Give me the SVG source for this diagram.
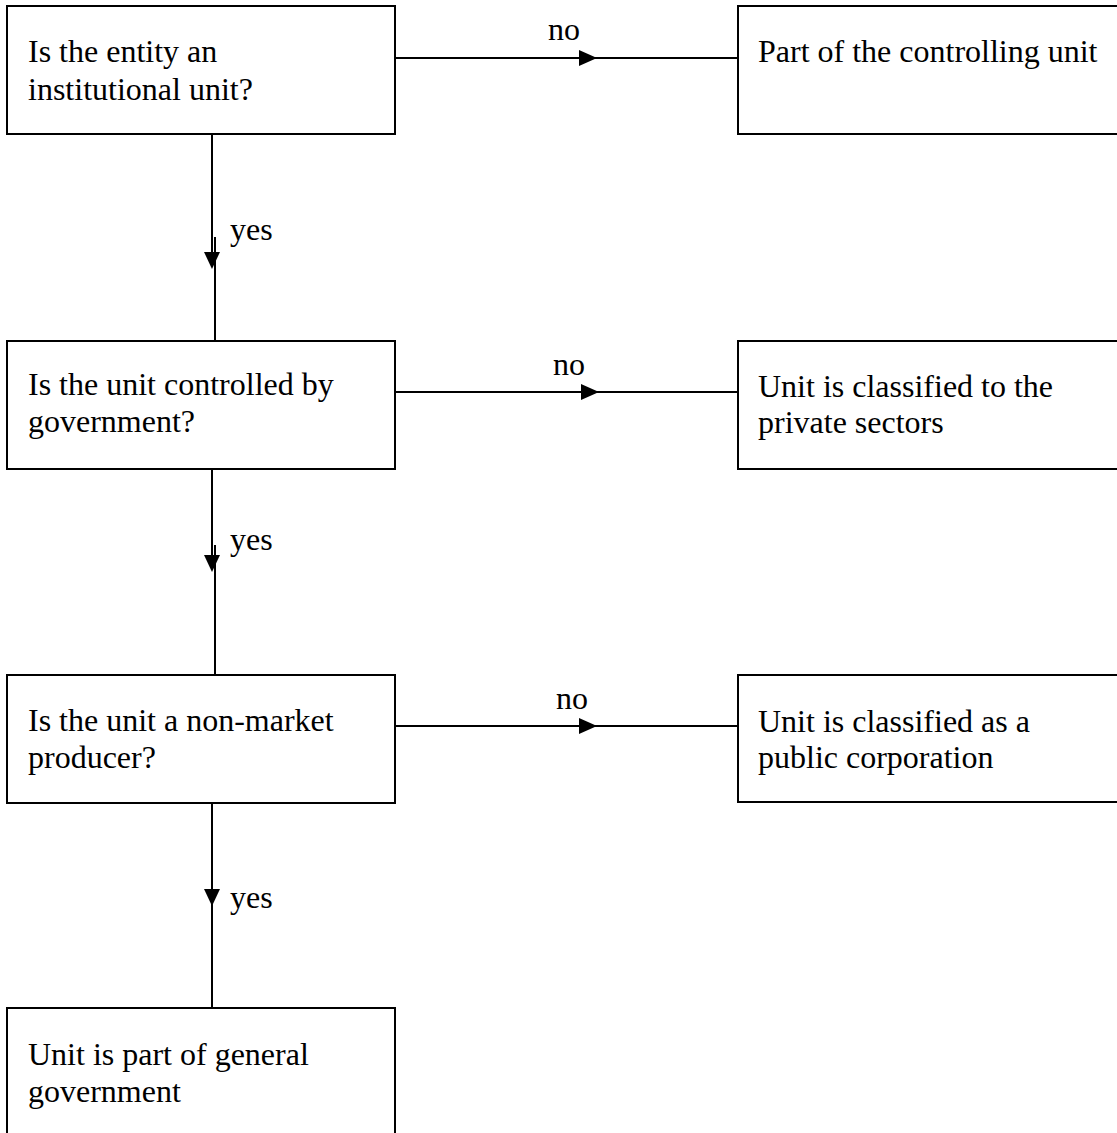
<svg xmlns="http://www.w3.org/2000/svg" width="1117" height="1133" viewBox="0 0 1117 1133">
<style>
.box{fill:#fff;stroke:#000;stroke-width:2}
.ln{stroke:#000;stroke-width:2;fill:none}
.ah{fill:#000}
text{font-family:"Liberation Serif","Times New Roman",serif;font-size:32px;fill:#000}
</style>
<rect width="1117" height="1133" fill="#fff"/>
<g id="connectors">
<line class="ln" x1="395" y1="58" x2="738" y2="58"/>
<polygon class="ah" points="579,50 597,58 579,66"/>
<text x="548" y="40">no</text>
<line class="ln" x1="395" y1="392" x2="738" y2="392"/>
<polygon class="ah" points="581,384 599,392 581,400"/>
<text x="553" y="375">no</text>
<line class="ln" x1="395" y1="726" x2="741" y2="726"/>
<polygon class="ah" points="579,718 597,726 579,734"/>
<text x="556" y="709">no</text>
<line class="ln" x1="212" y1="134" x2="212" y2="258"/>
<line class="ln" x1="215" y1="237" x2="215" y2="341"/>
<polygon class="ah" points="204,252 220,252 212,269"/>
<text x="230" y="240">yes</text>
<line class="ln" x1="212" y1="469" x2="212" y2="560"/>
<line class="ln" x1="215" y1="545" x2="215" y2="675"/>
<polygon class="ah" points="204,555 220,555 212,572"/>
<text x="230" y="550">yes</text>
<line class="ln" x1="212" y1="803" x2="212" y2="1008"/>
<polygon class="ah" points="204,889 220,889 212,906"/>
<text x="230" y="908">yes</text>
</g>
<g id="q1"><rect class="box" x="7" y="6" width="388" height="128"/><text x="28" y="62">Is the entity an</text><text x="28" y="100">institutional unit?</text></g>
<g id="r1"><rect class="box" x="738" y="6" width="400" height="128"/><text x="758" y="62">Part of the controlling unit</text></g>
<g id="q2"><rect class="box" x="7" y="341" width="388" height="128"/><text x="28" y="395">Is the unit controlled by</text><text x="28" y="432">government?</text></g>
<g id="r2"><rect class="box" x="738" y="341" width="400" height="128"/><text x="758" y="397">Unit is classified to the</text><text x="758" y="433">private sectors</text></g>
<g id="q3"><rect class="box" x="7" y="675" width="388" height="128"/><text x="28" y="731">Is the unit a non-market</text><text x="28" y="768">producer?</text></g>
<g id="r3"><rect class="box" x="738" y="675" width="400" height="127"/><text x="758" y="732">Unit is classified as a</text><text x="758" y="768">public corporation</text></g>
<g id="end"><rect class="box" x="7" y="1008" width="388" height="140"/><text x="28" y="1065">Unit is part of general</text><text x="28" y="1102">government</text></g>
</svg>
